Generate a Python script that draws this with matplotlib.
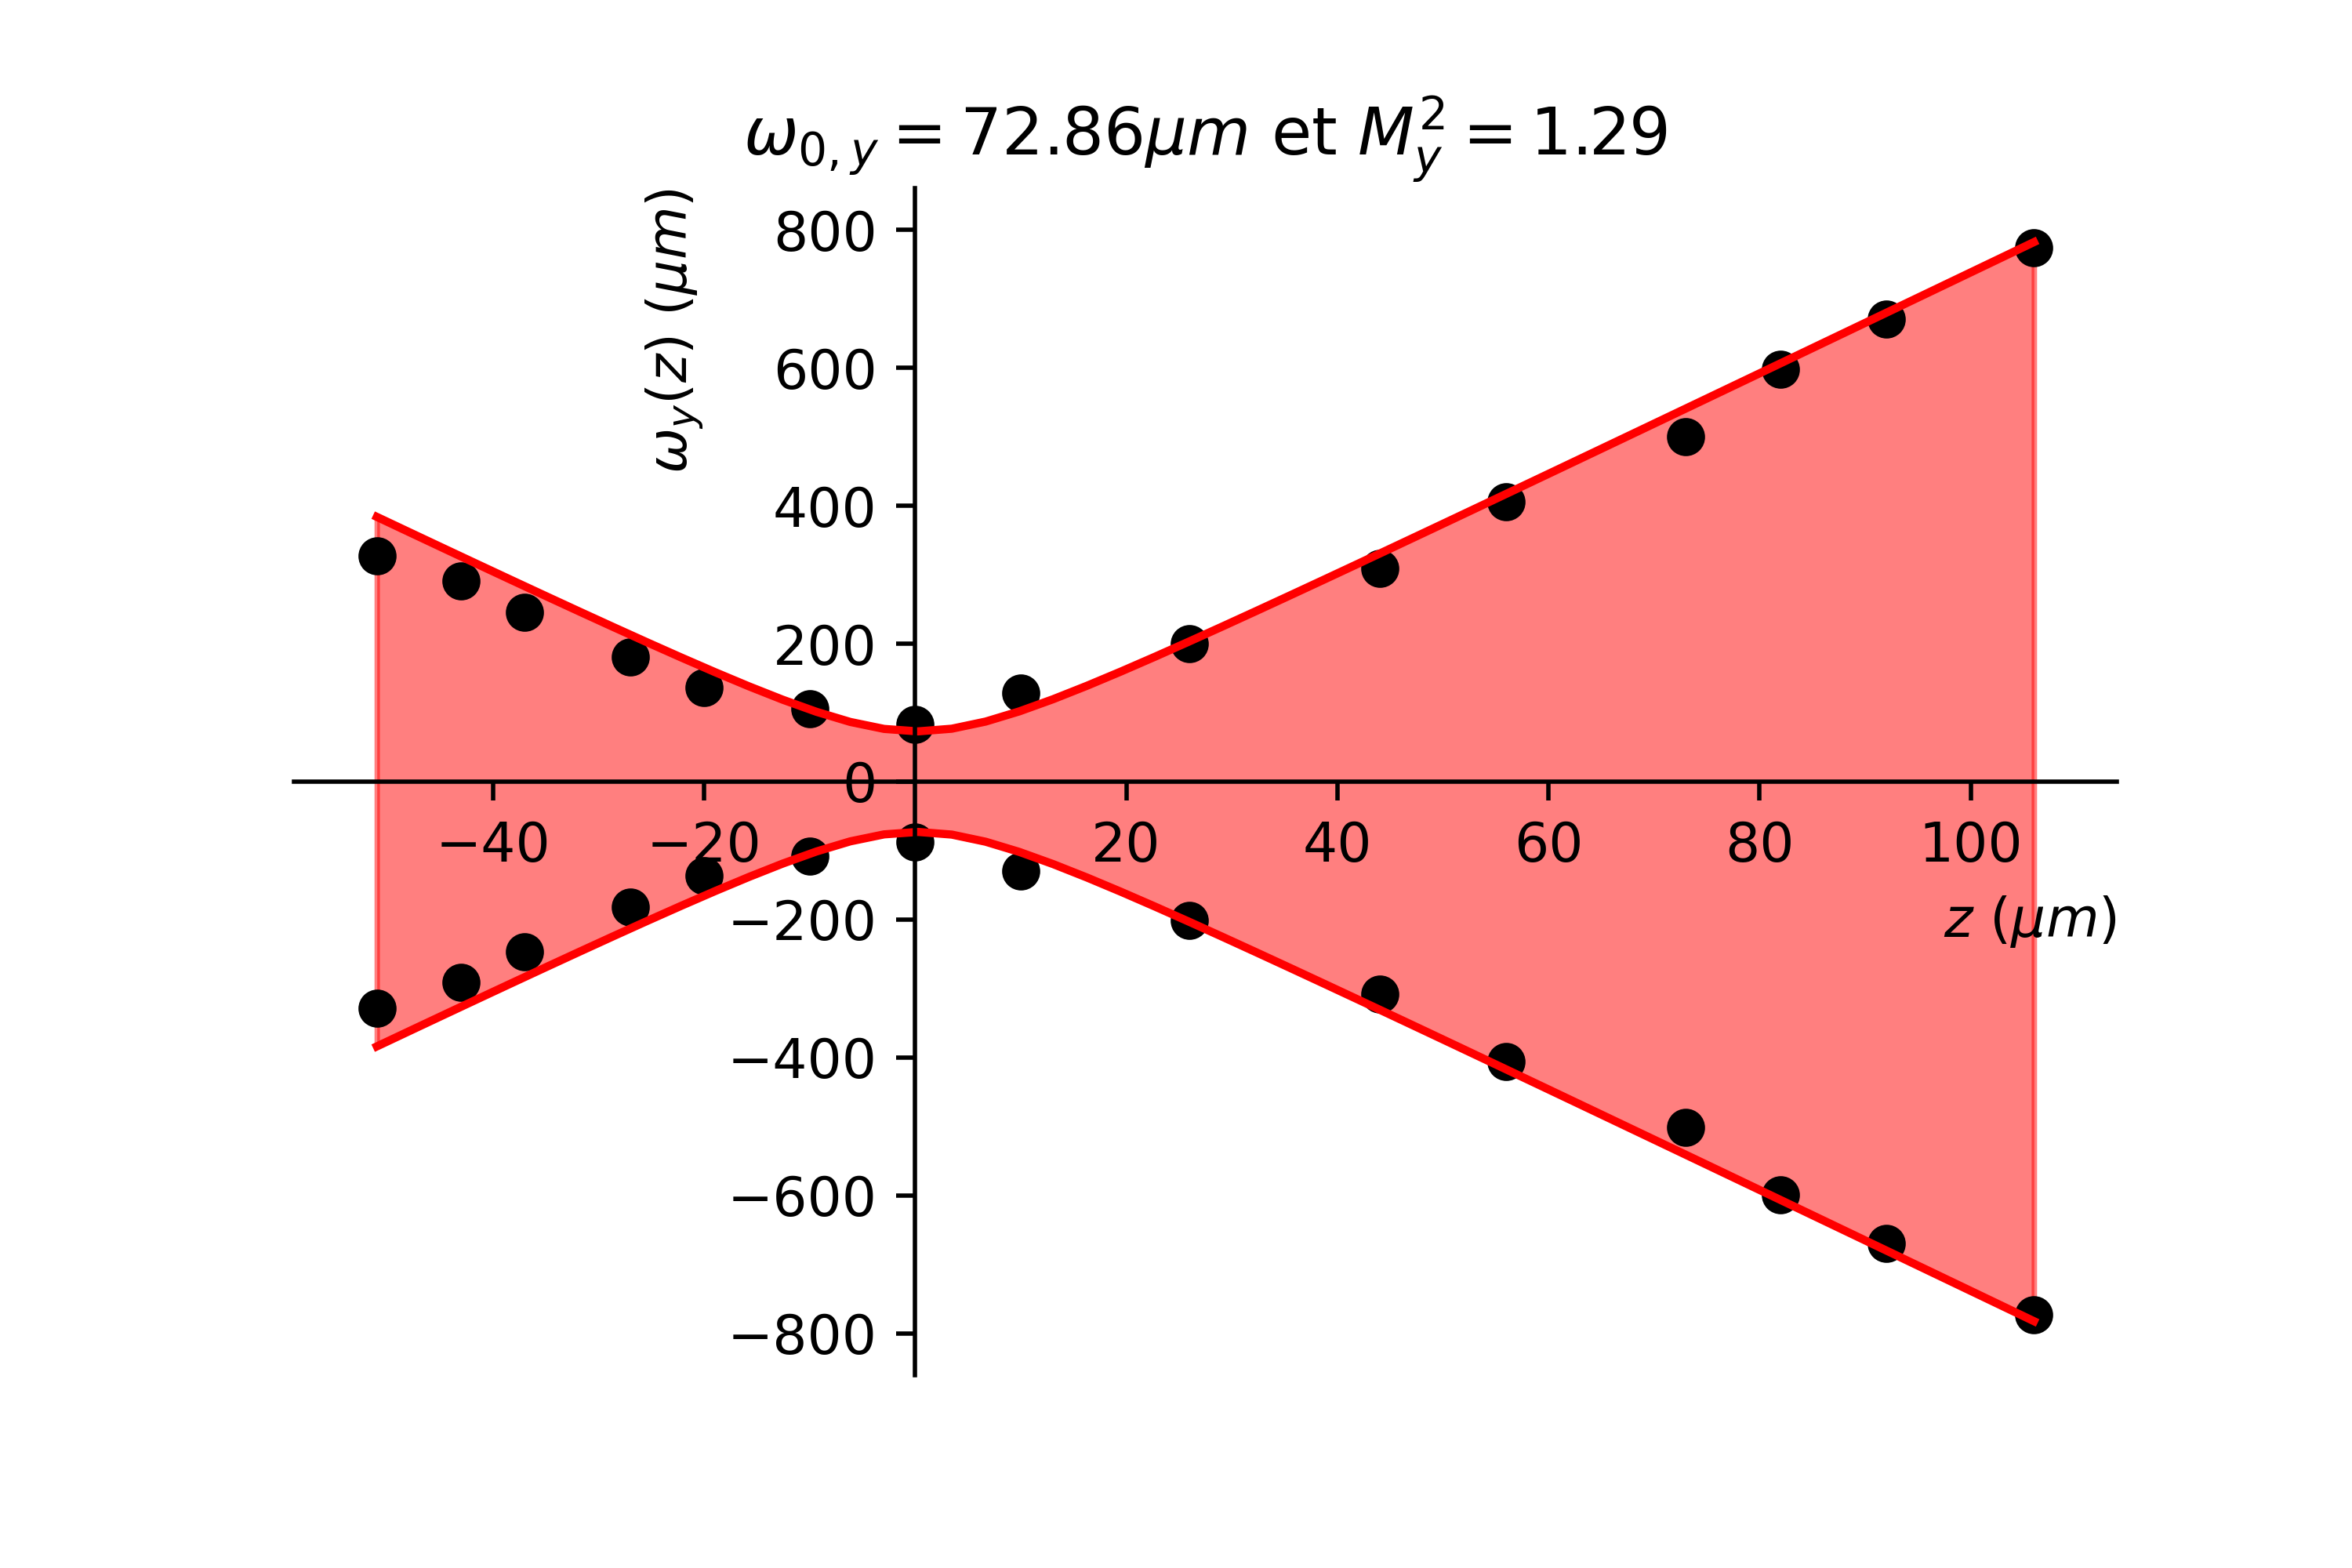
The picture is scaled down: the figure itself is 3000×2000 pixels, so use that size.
import matplotlib as mpl
import matplotlib.pyplot as plt
import numpy as np

# mesures : position z et rayon du faisceau (haut / bas)
z = np.array([-51, -43, -37, -27, -20, -10, 0, 10, 26, 44, 56, 73, 82, 92, 106])
w_haut = np.array([327, 291, 245, 181, 136, 106, 83, 128, 200, 309, 406, 500, 598, 670, 774])
w_bas = np.array([-328, -291, -247, -182, -136, -108, -88, -130, -201, -308, -406, -501, -599, -669, -773])

# parametres de l'ajustement gaussien
w0 = 72.86
M2 = 1.29
z0 = 0.2
zR = 9.9

xticks = [-40, -20, 20, 40, 60, 80, 100]
yticks = [-800, -600, -400, -200, 0, 200, 400, 600, 800]

z_fit = np.linspace(z.min(), z.max(), 50)
w_fit = w0 * np.sqrt(1 + ((z_fit - z0) / zR) ** 2)

fig, ax = plt.subplots(figsize=(6, 4), dpi=500)
fig.subplots_adjust(left=0.125, right=0.9, top=0.88, bottom=0.123)

ax.fill_between(z_fit, -w_fit, w_fit, color='red', alpha=0.5)
ax.plot(z, w_haut, 'ko')
ax.plot(z, w_bas, 'ko')
ax.plot(z_fit, w_fit, 'r-', lw=1.5)
ax.plot(z_fit, -w_fit, 'r-', lw=1.5)

ax.spines['left'].set_position('zero')
ax.spines['bottom'].set_position('zero')
ax.spines['right'].set_visible(False)
ax.spines['top'].set_visible(False)

ax.set_xticks(xticks)
ax.set_yticks(yticks)

ax.set_xlabel(r'$z$ ($\mu m$)', loc='right')
ax.set_ylabel(r'$\omega_y(z)$ ($\mu m$)', loc='top')
ax.set_title(r'$\omega_{0,y} = %.2f \mu m$ et $M_y^2 = %.2f$' % (w0, M2))

plt.savefig('out.png')
